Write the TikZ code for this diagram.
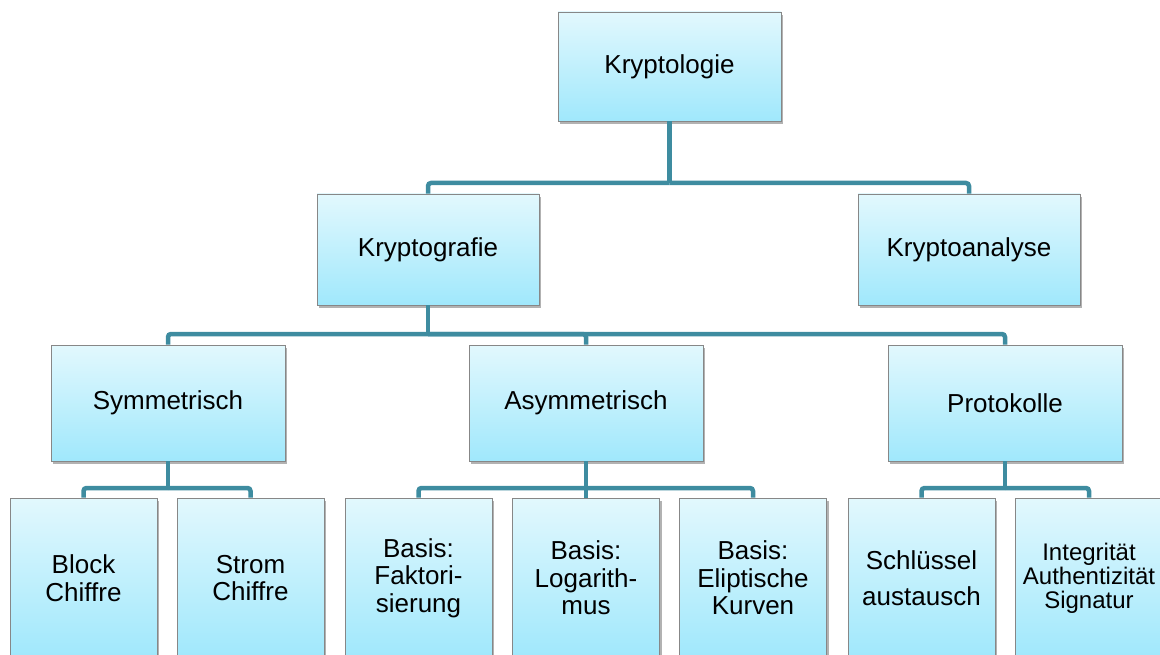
\documentclass[tikz,border=0pt]{standalone}
\usepackage{fontspec}
\setmainfont{Liberation Sans}
\usetikzlibrary{shadows}

\definecolor{verbfarbe}{RGB}{62,140,160}
\definecolor{kastenoben}{RGB}{226,248,253}
\definecolor{kastenunten}{RGB}{160,232,252}
\definecolor{randfarbe}{RGB}{135,135,135}

\tikzset{
  kasten/.style={draw=randfarbe, line width=0.8pt, top color=kastenoben, bottom color=kastenunten,
    drop shadow={shadow xshift=2pt, shadow yshift=-3pt, opacity=0.5, fill=black!60},
    align=center, inner sep=2pt, font=\fontsize{26}{27.5}\selectfont},
  ebeneA/.style={kasten, minimum width=223pt, minimum height=109pt},
  ebeneB/.style={kasten, minimum width=222pt, minimum height=111pt},
  ebeneC/.style={kasten, minimum width=234pt, minimum height=116pt},
  ebeneD/.style={kasten, minimum width=147pt, minimum height=160pt},
  verb/.style={draw=verbfarbe, line width=4.5pt, rounded corners=3pt}
}

\begin{document}
\begin{tikzpicture}[x=1pt, y=-1pt]
  \clip (0,0) rectangle (1160,655);
  % Ebene 1 und 2
  \node[ebeneA] (logie) at (669.5,66.5) {Kryptologie};
  \node[ebeneB] (grafie) at (428,249.5) {Kryptografie};
  \node[ebeneB] (analyse) at (969,249.5) {Kryptoanalyse};
  % Ebene 3
  \node[ebeneC] (sym) at (168,403) {Symmetrisch};
  \node[ebeneC] (asym) at (586,403) {Asymmetrisch};
  \node[ebeneC] (proto) at (1005,403) {Protokolle};
  % Ebene 4
  \node[ebeneD] (block) at (83.5,578) {Block\\Chiffre};
  \node[ebeneD] (strom) at (250.5,578) {Strom\\Chiffre};
  \node[ebeneD] (fakt) at (418.5,578) {Basis:\\Faktori-\\sierung};
  \node[ebeneD] (loga) at (586,578) {Basis:\\Logarith-\\mus};
  \node[ebeneD] (ellip) at (753,578) {Basis:\\Eliptische\\Kurven};
  \node[ebeneD] (schl) at (921.5,578) {Schlüssel\\[9pt]austausch};
  \node[ebeneD, font=\fontsize{24}{24}\selectfont] (integ) at (1089,578) {Integrität\\Authentizität\\Signatur};
  % Schienen
  \coordinate (s1) at (0,183);
  \coordinate (s2) at (0,334);
  \coordinate (s3) at (0,488);
  % Verbindungen
  \draw[verb] (logie.south) -- (logie.south |- s1);
  \foreach \k in {grafie, analyse}
    \draw[verb] (logie.south |- s1) -| (\k.north);
  \draw[verb] (grafie.south) -- (grafie.south |- s2);
  \foreach \k in {sym, asym, proto}
    \draw[verb] (grafie.south |- s2) -| (\k.north);
  \draw[verb] (sym.south) -- (sym.south |- s3);
  \foreach \k in {block, strom}
    \draw[verb] (sym.south |- s3) -| (\k.north);
  \draw[verb] (asym.south) -- (asym.south |- s3);
  \foreach \k in {fakt, loga, ellip}
    \draw[verb] (asym.south |- s3) -| (\k.north);
  \draw[verb] (proto.south) -- (proto.south |- s3);
  \foreach \k in {schl, integ}
    \draw[verb] (proto.south |- s3) -| (\k.north);
\end{tikzpicture}
\end{document}
